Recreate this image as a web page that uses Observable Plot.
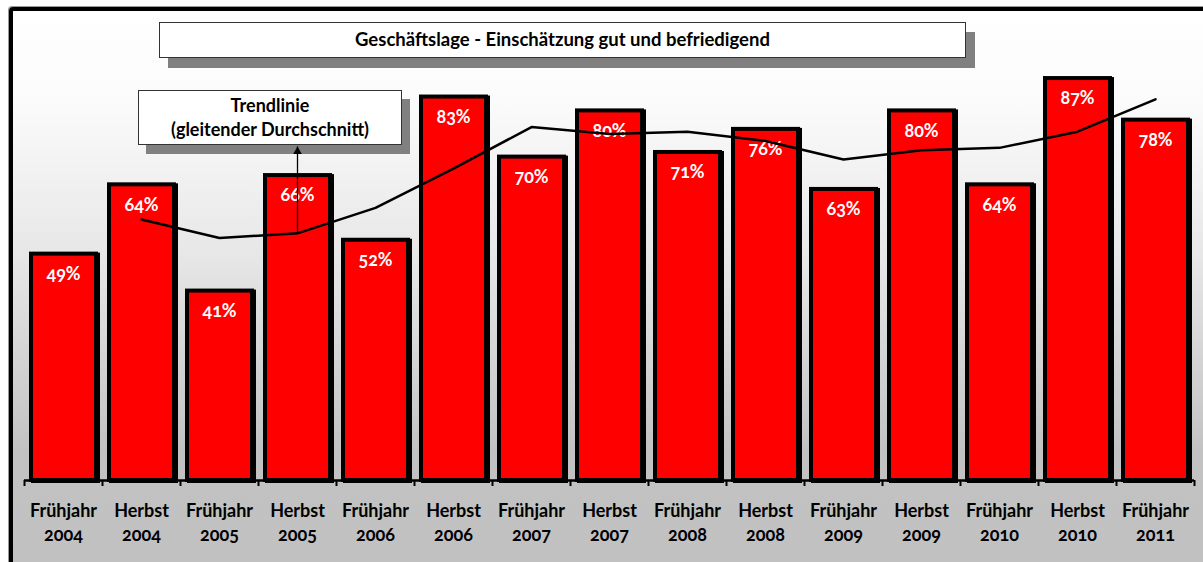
<!DOCTYPE html>
<html>
<head>
<meta charset="utf-8">
<script src="https://cdn.jsdelivr.net/npm/d3@7"></script>
<script src="https://cdn.jsdelivr.net/npm/@observablehq/plot@0.6"></script>
<style>
  html, body { margin: 0; padding: 0; background: #fff; }
  #wrap { position: relative; width: 1203px; height: 562px; overflow: hidden; font-family: Lato, "Noto Sans", sans-serif; font-variant-numeric: oldstyle-nums; }
  #frame { position: absolute; left: 9px; top: 7px; width: 1300px; height: 700px; border: 4px solid #000; border-radius: 4px;
    background: linear-gradient(#ffffff 0px, #fbfbfb 90px, #e6e6e6 250px, #c2c2c2 440px, #c0c0c0 700px); box-shadow: -1px -1px 0 #999; }
  #chart { position: absolute; left: 0; top: 0; z-index: 3; }
  .box { position: absolute; background: #fff; border: 1.5px solid #333; box-sizing: border-box; font-weight: bold; color: #000; text-align: center; z-index: 2; }
  #title { left: 159px; top: 22px; width: 807px; height: 36px; line-height: 33px; font-size: 18.5px; box-shadow: 9px 10px 0 #808080; }
  #trendbox { left: 138px; top: 90px; width: 264px; height: 55px; font-size: 18px; line-height: 24px; padding-top: 2px; box-shadow: 8px 9px 0 #808080; }
</style>
</head>
<body>
<div id="wrap">
  <div id="frame"></div>
  <div class="box" id="title">Geschäftslage - Einschätzung gut und befriedigend</div>
  <div class="box" id="trendbox">Trendlinie<br>(gleitender Durchschnitt)</div>
  <div id="chart"></div>
</div>
<script>
const seasons = ["Frühjahr","Herbst","Frühjahr","Herbst","Frühjahr","Herbst","Frühjahr","Herbst","Frühjahr","Herbst","Frühjahr","Herbst","Frühjahr","Herbst","Frühjahr"];
const years = ["2004","2004","2005","2005","2006","2006","2007","2007","2008","2008","2009","2009","2010","2010","2011"];
const values = [49, 64, 41, 66, 52, 83, 70, 80, 71, 76, 63, 80, 64, 87, 78];
const trend = [null, 56.5, 52.5, 53.5, 59, 67.5, 76.5, 75, 75.5, 73.5, 69.5, 71.5, 72, 75.5, 82.5];
const arrowIndex = 3;
const arrowTop = 72.2;

const data = values.map((v, i) => ({i, v, season: seasons[i], year: years[i]}));
const trendData = trend.map((t, i) => ({i, t})).filter(d => d.t != null);

const chart = Plot.plot({
  width: 1203,
  height: 562,
  marginLeft: 24,
  marginRight: 9,
  marginTop: 18,
  marginBottom: 82,
  style: {background: "transparent", fontFamily: "Lato, 'Noto Sans', sans-serif", overflow: "visible"},
  x: {type: "linear", domain: [0, values.length], axis: null},
  y: {domain: [0, 100], axis: null},
  marks: [
    Plot.rectY(data, {x1: d => d.i, x2: d => d.i + 1, y: "v", insetLeft: 7, insetRight: 6, dx: 2, dy: 1, fill: "#000", stroke: "#000", strokeWidth: 4}),
    Plot.rectY(data, {x1: d => d.i, x2: d => d.i + 1, y: "v", insetLeft: 7, insetRight: 6, fill: "#ff0000", stroke: "#000", strokeWidth: 4}),
    Plot.ruleY([0], {stroke: "#000", strokeWidth: 2.5}),
    Plot.axisX({ticks: d3.range(values.length + 1), tickSize: 6, tickFormat: () => "", strokeWidth: 2, stroke: "#000"}),
    Plot.text(data, {x: d => d.i + 0.5, y: 0, text: d => d.season + "\n" + d.year, lineAnchor: "top", dy: 20, lineHeight: 1.32, fontSize: 18, fontWeight: "bold", fill: "#000"}),
    Plot.text(data, {x: d => d.i + 0.5, y: "v", text: d => d.v + "%", dy: 20, fontSize: 18, fontWeight: "bold", fill: "#fff"}),
    Plot.line(trendData, {x: d => d.i + 0.5, y: "t", stroke: "#000", strokeWidth: 2.5}),
    Plot.ruleX([arrowIndex + 0.5], {y1: trend[arrowIndex], y2: arrowTop, stroke: "#000", strokeWidth: 1.3}),
    Plot.dot([arrowIndex + 0.5], {x: d => d, y: arrowTop - 1.0, symbol: "triangle", r: 3.2, fill: "#000", stroke: null})
  ]
});
document.getElementById("chart").appendChild(chart);
</script>
</body>
</html>
